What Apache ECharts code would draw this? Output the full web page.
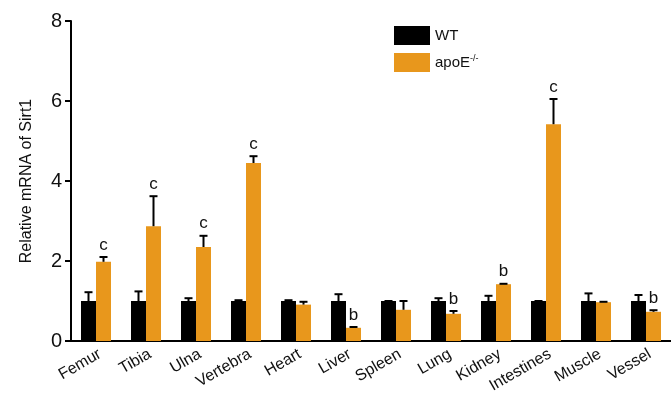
<!DOCTYPE html>
<html><head><meta charset="utf-8">
<script src="https://cdn.jsdelivr.net/npm/echarts@6/dist/echarts.min.js"></script>
<style>html,body{margin:0;padding:0;background:#fff}#c{width:671px;height:397px}</style>
</head><body><div id="c"></div>
<script>
var categories = ['Femur','Tibia','Ulna','Vertebra','Heart','Liver','Spleen','Lung','Kidney','Intestines','Muscle','Vessel'];
var wtMean = [1.0,1.0,1.0,1.0,1.0,1.0,1.0,1.0,1.0,1.0,1.0,1.0];
var wtErrTop = [1.22,1.24,1.07,1.02,1.02,1.17,1.0,1.07,1.13,1.0,1.19,1.15];
var apoMean = [1.98,2.87,2.35,4.45,0.91,0.33,0.78,0.68,1.42,5.42,0.97,0.73];
var apoErrTop = [2.1,3.62,2.63,4.62,0.98,0.35,1.0,0.75,1.43,6.05,0.98,0.77];
var sigLetters = ['c','c','c','c','','b','','b','b','c','','b'];
var yTicks = [0,2,4,6,8];

var chart = echarts.init(document.getElementById('c'));
var FONT = '"Liberation Sans", Arial, Helvetica, sans-serif';
var BW = 0.3;

function errData(mean, top, side) {
  return mean.map(function(m, i){ return [i, m, top[i], side]; });
}
function renderErr(params, api) {
  var i = api.value(0), m = api.value(1), t = api.value(2), side = api.value(3);
  var band = api.size([1,0])[0];
  var bw = band*BW;
  var p0 = api.coord([i, m]);
  var p1 = api.coord([i, t]);
  var x = p0[0] + side*bw/2;
  var children = [];
  if (p0[1]-p1[1] > 0.5) {
    children.push({type:'line', shape:{x1:x,y1:p0[1],x2:x,y2:p1[1]}, style:{stroke:'#000',lineWidth:2}});
  }
  children.push({type:'line', shape:{x1:x-4,y1:p1[1],x2:x+4,y2:p1[1]}, style:{stroke:'#000',lineWidth:2}});
  return {type:'group', children:children};
}
function renderLetters(params, api) {
  var i = api.value(0), t = api.value(1);
  var band = api.size([1,0])[0];
  var bw = band*BW;
  var p = api.coord([i, t]);
  var s = sigLetters[i];
  if (!s) return null;
  return {type:'text', x:p[0]+bw/2, y:p[1]-12, style:{text:s, fill:'#111', font:'17px '+FONT, textAlign:'center', textVerticalAlign:'middle'}};
}

chart.setOption({
  animation:false,
  textStyle:{fontFamily:FONT},
  grid:{left:71, right:0, top:21, bottom:56},
  legend:{
    data:['WT','apoE-/-'], orient:'vertical', left:389, top:21, itemWidth:36, itemHeight:19, itemGap:8,
    icon:'rect',
    textStyle:{fontSize:15, color:'#111', fontFamily:FONT, rich:{a:{fontSize:15,color:'#111'}, s:{fontSize:9,color:'#111',padding:[0,0,8,0]}}},
    formatter:function(n){ return n==='WT' ? '{a|WT}' : '{a|apoE}{s|-/-}'; }
  },
  xAxis:{
    type:'category', data:categories,
    axisLine:{lineStyle:{color:'#000', width:2}},
    axisTick:{length:5, lineStyle:{color:'#000', width:2}},
    axisLabel:{rotate:30, fontSize:16, color:'#111', margin:5, interval:0, verticalAlign:'top'}
  },
  yAxis:{
    type:'value', min:0, max:8, interval:2,
    name:'Relative mRNA of Sirt1', nameLocation:'middle', nameGap:36,
    nameTextStyle:{fontSize:16, color:'#111'},
    axisLine:{show:true, lineStyle:{color:'#000', width:2}},
    axisTick:{show:true, length:6, lineStyle:{color:'#000', width:2}},
    axisLabel:{fontSize:20, color:'#111', margin:9},
    splitLine:{show:false}
  },
  series:[
    {name:'WT', type:'bar', data:wtMean, barWidth:'30%', barGap:'0%', itemStyle:{color:'#000'}},
    {name:'apoE-/-', type:'bar', data:apoMean, barWidth:'30%', barGap:'0%', itemStyle:{color:'#E8971C'}},
    {type:'custom', data:errData(wtMean, wtErrTop, -1), renderItem:renderErr, z:5},
    {type:'custom', data:errData(apoMean, apoErrTop, 1), renderItem:renderErr, z:5},
    {type:'custom', data:apoErrTop.map(function(t,i){return [i,t];}), renderItem:renderLetters, z:6}
  ]
});
</script></body></html>
